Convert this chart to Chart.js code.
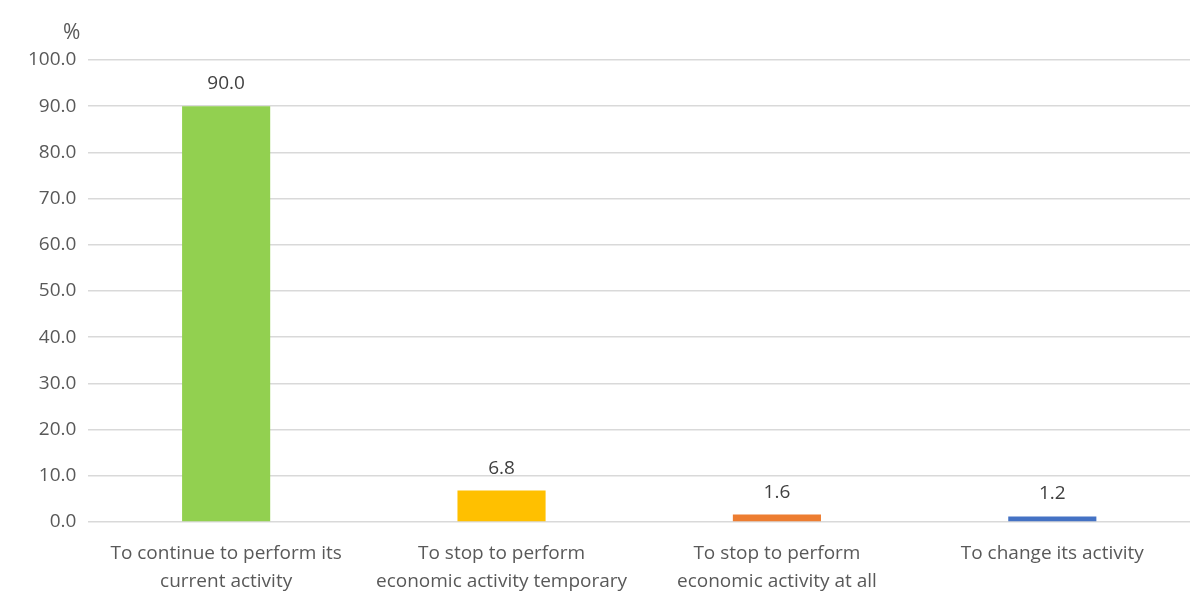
<!DOCTYPE html>
<html>
<head>
<meta charset="utf-8">
<script src="https://cdn.jsdelivr.net/npm/chart.js@4.4.1/dist/chart.umd.min.js"></script>
<style>
  html, body { margin: 0; padding: 0; background: #fff; }
  #wrap { width: 1194px; height: 592px; position: relative; }
</style>
</head>
<body>
<div id="wrap"><canvas id="grafico"></canvas></div>
<script>
var categorias = [
    ['To continue to perform its', 'current activity'],
    ['To stop to perform', 'economic activity temporary'],
    ['To stop to perform', 'economic activity at all'],
    ['To change its activity']
];
var valores = [90.0, 6.8, 1.6, 1.2];
var colores = ['#92D050', '#FFC000', '#ED7D31', '#4472C4'];
var unidad = '%';

var fuente = '"Open Sans", "Liberation Sans", sans-serif';
var gris = '#595959';

// etiquetas encima de cada barra + el simbolo % arriba a la izquierda
var etiquetas = {
    id: 'etiquetas',
    afterDatasetsDraw: function (chart) {
        var ctx = chart.ctx;
        ctx.save();
        ctx.font = '19px ' + fuente;
        ctx.fillStyle = '#404040';
        ctx.textAlign = 'center';
        ctx.textBaseline = 'alphabetic';
        chart.getDatasetMeta(0).data.forEach(function (bar, i) {
            ctx.fillText(valores[i].toFixed(1), bar.x, bar.y - 17);
        });
        ctx.font = '21px ' + fuente;
        ctx.fillStyle = gris;
        ctx.textAlign = 'left';
        ctx.fillText(unidad, 63, 39);
        ctx.restore();
    }
};

new Chart(document.getElementById('grafico'), {
    type: 'bar',
    data: {
        labels: categorias,
        datasets: [{ data: valores, backgroundColor: colores, barPercentage: 0.4, categoryPercentage: 0.8 }]
    },
    options: {
        responsive: true,
        maintainAspectRatio: false,
        animation: false,
        layout: { padding: { top: 60, right: 4, left: 16, bottom: -13 } },
        plugins: { legend: { display: false }, tooltip: { enabled: false } },
        scales: {
            x: {
                grid: { display: false },
                border: { display: false },
                ticks: { color: gris, font: { family: fuente, size: 19, lineHeight: 1.5 }, padding: 9, maxRotation: 0, autoSkip: false }
            },
            y: {
                min: 0,
                max: 100,
                grid: { color: '#d9d9d9', lineWidth: 1.5, drawTicks: false },
                border: { display: false },
                ticks: {
                    stepSize: 10,
                    color: gris,
                    font: { family: fuente, size: 19 },
                    padding: 12,
                    callback: function (v) { return v.toFixed(1); }
                }
            }
        }
    },
    plugins: [etiquetas]
});
</script>
</body>
</html>
